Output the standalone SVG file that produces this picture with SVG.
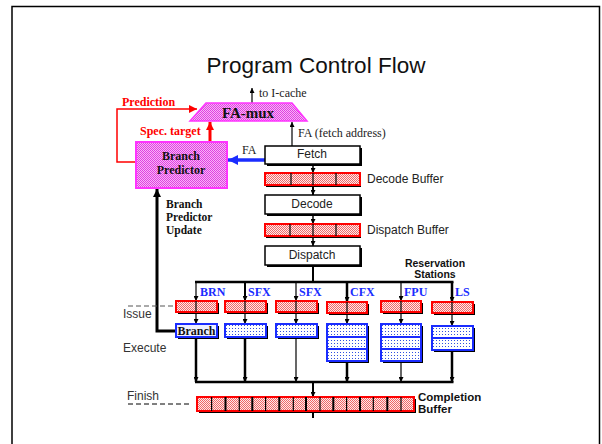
<svg xmlns="http://www.w3.org/2000/svg" width="602" height="444" viewBox="0 0 602 444">
  <defs>
    <pattern id="redCheck" width="2" height="2" patternUnits="userSpaceOnUse">
      <rect width="2" height="2" fill="#fdeaea"/>
      <rect width="1" height="1" fill="#f06868"/>
      <rect x="1" y="1" width="1" height="1" fill="#f06868"/>
    </pattern>
    <pattern id="magCheck" width="2" height="2" patternUnits="userSpaceOnUse">
      <rect width="2" height="2" fill="#f8b4f8"/>
      <rect width="1" height="1" fill="#e040e0"/>
      <rect x="1" y="1" width="1" height="1" fill="#e040e0"/>
    </pattern>
    <pattern id="blueDot" width="3" height="3" patternUnits="userSpaceOnUse">
      <rect width="3" height="3" fill="#ffffff"/>
      <rect x="1" y="1" width="1" height="1" fill="#3050e0"/>
    </pattern>
    <marker id="ah" viewBox="0 0 8 8" refX="8" refY="4" markerWidth="5" markerHeight="5" markerUnits="userSpaceOnUse" orient="auto">
      <path d="M0,0 L8,4 L0,8 z" fill="#000"/>
    </marker>
    <marker id="ahBig" viewBox="0 0 10 10" refX="10" refY="5" markerWidth="8" markerHeight="8" markerUnits="userSpaceOnUse" orient="auto">
      <path d="M0,0 L10,5 L0,10 z" fill="#000"/>
    </marker>
    <marker id="ahRed" viewBox="0 0 10 10" refX="10" refY="5" markerWidth="8" markerHeight="8" markerUnits="userSpaceOnUse" orient="auto">
      <path d="M0,0 L10,5 L0,10 z" fill="#ff0000"/>
    </marker>
    <marker id="ahBlue" viewBox="0 0 10 10" refX="10" refY="5" markerWidth="10" markerHeight="10" markerUnits="userSpaceOnUse" orient="auto">
      <path d="M0,0 L10,5 L0,10 z" fill="#1a2cff"/>
    </marker>
  </defs>
  <style>
    .sans { font-family: "Liberation Sans", Arial, sans-serif; }
    .serif { font-family: "Liberation Serif", "Times New Roman", serif; }
    .bold { font-weight: bold; }
    .stage { fill: #fff; stroke: #000; stroke-width: 1.5; }
    .shadow { fill: #000; }
    .rbuf { fill: url(#redCheck); stroke: #ff0000; stroke-width: 2; }
    .exec { fill: url(#blueDot); stroke: #1a2cff; stroke-width: 2; }
    .div { stroke: #000; stroke-width: 1.2; }
    .wire { fill: none; stroke: #000; }
    .lbl { font-size: 12px; }
    .unit { font-size: 12px; font-weight: bold; fill: #1a2cff; }
    .side { font-size: 12px; fill: #333; }
  </style>

  <rect width="602" height="444" fill="#fff"/>
  <!-- slide frame -->
  <path d="M12,444 L12,6.5 L599.5,6.5 L599.5,444" fill="none" stroke="#000" stroke-width="1.5"/>

  <text class="sans" x="316" y="73" font-size="22.5" text-anchor="middle" fill="#111">Program Control Flow</text>

  <!-- connectors -->
  <g id="connectors">
    <!-- to I-cache -->
    <line class="wire" x1="252" y1="103" x2="252" y2="88" stroke-width="1.2" marker-end="url(#ah)"/>
    <!-- fetch address into mux -->
    <line class="wire" x1="292" y1="146" x2="292" y2="122" stroke-width="1.2" marker-end="url(#ah)"/>
    <!-- prediction feedback -->
    <path d="M136,162 L117,162 L117,109 L197,109" fill="none" stroke="#ff0000" stroke-width="1.5" marker-end="url(#ahRed)"/>
    <!-- speculative target -->
    <line x1="210" y1="142" x2="210" y2="122" stroke="#ff0000" stroke-width="3" marker-end="url(#ahRed)"/>
    <!-- FA to branch predictor -->
    <line x1="265" y1="160" x2="228" y2="160" stroke="#1a2cff" stroke-width="3.5" marker-end="url(#ahBlue)"/>
    <!-- branch predictor update -->
    <path d="M176,331 L157,331 L157,189" fill="none" stroke="#000" stroke-width="3" marker-end="url(#ahBig)"/>

    <!-- front-end pipe -->
    <line class="wire" x1="313" y1="165" x2="313" y2="173" stroke-width="1.5" marker-end="url(#ah)"/>
    <line class="wire" x1="313" y1="186" x2="313" y2="195" stroke-width="2" marker-end="url(#ah)"/>
    <line class="wire" x1="313" y1="215" x2="313" y2="224" stroke-width="1.5" marker-end="url(#ah)"/>
    <line class="wire" x1="313" y1="238" x2="313" y2="246" stroke-width="1.5" marker-end="url(#ah)"/>
    <line class="wire" x1="313" y1="266" x2="313" y2="282" stroke-width="2"/>

    <!-- issue bus -->
    <line class="wire" x1="195" y1="282" x2="453.5" y2="282" stroke-width="2.5"/>
    <line class="wire" x1="196" y1="282" x2="196" y2="301" stroke-width="1.2" marker-end="url(#ah)"/>
    <line class="wire" x1="196" y1="301" x2="196" y2="324" stroke-width="1.2" marker-end="url(#ah)"/>
    <line class="wire" x1="245" y1="282" x2="245" y2="301" stroke-width="2" marker-end="url(#ah)"/>
    <line class="wire" x1="245" y1="301" x2="245" y2="324" stroke-width="1.2" marker-end="url(#ah)"/>
    <line class="wire" x1="296" y1="282" x2="296" y2="301" stroke-width="1.2" marker-end="url(#ah)"/>
    <line class="wire" x1="296" y1="301" x2="296" y2="324" stroke-width="1.2" marker-end="url(#ah)"/>
    <line class="wire" x1="347" y1="282" x2="347" y2="302" stroke-width="2.5" marker-end="url(#ah)"/>
    <line class="wire" x1="347" y1="302" x2="347" y2="324" stroke-width="1.2" marker-end="url(#ah)"/>
    <line class="wire" x1="401" y1="282" x2="401" y2="301" stroke-width="1.2" marker-end="url(#ah)"/>
    <line class="wire" x1="401" y1="301" x2="401" y2="324" stroke-width="1.2" marker-end="url(#ah)"/>
    <line class="wire" x1="452" y1="282" x2="452" y2="302" stroke-width="2.5" marker-end="url(#ah)"/>
    <line class="wire" x1="452" y1="302" x2="452" y2="326" stroke-width="1.2" marker-end="url(#ah)"/>

    <!-- finish bus -->
    <line class="wire" x1="196" y1="338" x2="196" y2="382" stroke-width="2.5" marker-end="url(#ah)"/>
    <line class="wire" x1="245" y1="338" x2="245" y2="382" stroke-width="2.5" marker-end="url(#ah)"/>
    <line class="wire" x1="296" y1="338" x2="296" y2="382" stroke-width="1.2" marker-end="url(#ah)"/>
    <line class="wire" x1="347" y1="362" x2="347" y2="382" stroke-width="2.5" marker-end="url(#ah)"/>
    <line class="wire" x1="401" y1="362" x2="401" y2="382" stroke-width="1.2" marker-end="url(#ah)"/>
    <line class="wire" x1="452" y1="351" x2="452" y2="382" stroke-width="2.5" marker-end="url(#ah)"/>
    <line class="wire" x1="195" y1="382" x2="453.5" y2="382" stroke-width="2.5"/>
    <line class="wire" x1="313" y1="382" x2="313" y2="397" stroke-width="2" marker-end="url(#ah)"/>
    <line class="wire" x1="313" y1="411" x2="313" y2="418" stroke-width="2"/>

    <!-- stage markers -->
    <line x1="128" y1="306" x2="174" y2="306" stroke="#555" stroke-width="1" stroke-dasharray="5,3"/>
    <line x1="128" y1="404" x2="192" y2="404" stroke="#000" stroke-width="1" stroke-dasharray="5,3"/>
  </g>

  <g id="fa-mux">
    <path d="M206,103 L292,103 L307,121 L190,121 z" fill="url(#magCheck)" stroke="#ff33ff" stroke-width="1.5"/>
    <text class="serif bold" x="248" y="118" font-size="15" text-anchor="middle" fill="#111">FA-mux</text>
  </g>
  <text class="serif lbl" x="259" y="97" fill="#222">to I-cache</text>
  <text class="serif lbl" x="298" y="137" fill="#222">FA (fetch address)</text>
  <text class="serif bold lbl" x="122" y="106" fill="#ff0000">Prediction</text>
  <text class="serif bold lbl" x="140" y="135" fill="#ff0000">Spec. target</text>
  <text class="serif lbl" x="242" y="154" fill="#222">FA</text>

  <g id="branch-predictor">
    <rect x="136" y="142" width="91" height="46" fill="url(#magCheck)" stroke="#ff33ff" stroke-width="2"/>
    <text class="serif bold lbl" x="181" y="160" text-anchor="middle" fill="#111">Branch</text>
    <text class="serif bold lbl" x="181" y="174" text-anchor="middle" fill="#111">Predictor</text>
  </g>
  <text class="serif bold" font-size="11.5" fill="#111"><tspan x="166" y="208">Branch</tspan><tspan x="166" y="221">Predictor</tspan><tspan x="166" y="234">Update</tspan></text>

  <g id="fetch">
    <rect class="shadow" x="267" y="148" width="95" height="18"/>
    <rect class="stage" x="265" y="146" width="95" height="18"/>
    <text class="sans lbl" x="312" y="158" text-anchor="middle" fill="#222">Fetch</text>
  </g>

  <g id="decode-buffer">
    <rect class="shadow" x="266" y="175" width="95" height="12"/>
    <rect class="rbuf" x="265" y="173" width="95" height="12"/>
    <line class="div" x1="291" y1="173" x2="291" y2="185"/>
    <line class="div" x1="313" y1="173" x2="313" y2="185"/>
    <line class="div" x1="336" y1="173" x2="336" y2="185" stroke-width="2"/>
    <text class="sans lbl" x="367" y="183" fill="#222">Decode Buffer</text>
  </g>

  <g id="decode">
    <rect class="shadow" x="267" y="197" width="95" height="19"/>
    <rect class="stage" x="265" y="195" width="95" height="19"/>
    <text class="sans lbl" x="312" y="208" text-anchor="middle" fill="#222">Decode</text>
  </g>

  <g id="dispatch-buffer">
    <rect class="shadow" x="266" y="226" width="95" height="12"/>
    <rect class="rbuf" x="265" y="224" width="95" height="12"/>
    <line class="div" x1="290" y1="224" x2="290" y2="236"/>
    <line class="div" x1="313" y1="224" x2="313" y2="236"/>
    <line class="div" x1="336" y1="224" x2="336" y2="236" stroke-width="2"/>
    <text class="sans lbl" x="367" y="234" fill="#222">Dispatch Buffer</text>
  </g>

  <g id="dispatch">
    <rect class="shadow" x="267" y="248" width="95" height="19"/>
    <rect class="stage" x="265" y="246" width="95" height="19"/>
    <text class="sans lbl" x="312" y="259" text-anchor="middle" fill="#222">Dispatch</text>
  </g>

  <text class="sans bold" font-size="10.5" text-anchor="middle" fill="#111"><tspan x="435" y="267">Reservation</tspan><tspan x="435" y="278">Stations</tspan></text>

  <!-- unit labels -->
  <text class="serif unit" x="200" y="296">BRN</text>
  <text class="serif unit" x="248" y="296">SFX</text>
  <text class="serif unit" x="299" y="296">SFX</text>
  <text class="serif unit" x="350" y="296">CFX</text>
  <text class="serif unit" x="404" y="296">FPU</text>
  <text class="serif unit" x="455" y="296">LS</text>

  <!-- reservation stations -->
  <g id="rs-brn">
    <rect class="shadow" x="178" y="303" width="41" height="11"/>
    <rect class="rbuf" x="176" y="301" width="41" height="11"/>
  </g>
  <g id="rs-sfx1">
    <rect class="shadow" x="227" y="303" width="41" height="11"/>
    <rect class="rbuf" x="225" y="301" width="41" height="11"/>
  </g>
  <g id="rs-sfx2">
    <rect class="shadow" x="278" y="303" width="41" height="11"/>
    <rect class="rbuf" x="276" y="301" width="41" height="11"/>
  </g>
  <g id="rs-cfx">
    <rect class="shadow" x="329" y="304" width="40" height="11"/>
    <rect class="rbuf" x="327" y="302" width="40" height="11"/>
  </g>
  <g id="rs-fpu">
    <rect class="shadow" x="383" y="303" width="40" height="11"/>
    <rect class="rbuf" x="381" y="301" width="40" height="11"/>
  </g>
  <g id="rs-ls">
    <rect class="shadow" x="434" y="304" width="41" height="11"/>
    <rect class="rbuf" x="432" y="302" width="41" height="11"/>
  </g>
  <!-- bus lines drawn over the stations -->
  <g class="wire">
    <line x1="196" y1="301" x2="196" y2="312" stroke-width="1.2"/>
    <line x1="245" y1="301" x2="245" y2="312" stroke-width="1.2"/>
    <line x1="296" y1="301" x2="296" y2="312" stroke-width="1.2"/>
    <line x1="347" y1="302" x2="347" y2="313" stroke-width="1.2"/>
    <line x1="401" y1="301" x2="401" y2="312" stroke-width="1.2"/>
    <line x1="452" y1="302" x2="452" y2="313" stroke-width="1.2"/>
  </g>

  <!-- execution units -->
  <g id="ex-branch">
    <rect class="shadow" x="178" y="326" width="41" height="13"/>
    <rect x="176" y="324" width="41" height="13" fill="#eef0ff" stroke="#1a2cff" stroke-width="2"/>
    <text class="serif bold lbl" x="196.5" y="335" text-anchor="middle" fill="#111">Branch</text>
  </g>
  <g id="ex-sfx1">
    <rect class="shadow" x="227" y="326" width="41" height="13"/>
    <rect class="exec" x="225" y="324" width="41" height="13"/>
  </g>
  <g id="ex-sfx2">
    <rect class="shadow" x="278" y="326" width="41" height="13"/>
    <rect class="exec" x="276" y="324" width="41" height="13"/>
  </g>
  <g id="ex-cfx">
    <rect class="shadow" x="329" y="326" width="40" height="37"/>
    <rect class="exec" x="327" y="324" width="40" height="37"/>
    <line x1="327" y1="337" x2="367" y2="337" stroke="#1a2cff" stroke-width="2"/>
    <line x1="327" y1="349" x2="367" y2="349" stroke="#1a2cff" stroke-width="2"/>
  </g>
  <g id="ex-fpu">
    <rect class="shadow" x="383" y="326" width="40" height="37"/>
    <rect class="exec" x="381" y="324" width="40" height="37"/>
    <line x1="381" y1="337" x2="421" y2="337" stroke="#1a2cff" stroke-width="2"/>
    <line x1="381" y1="349" x2="421" y2="349" stroke="#1a2cff" stroke-width="2"/>
  </g>
  <g id="ex-ls">
    <rect class="shadow" x="434" y="328" width="41" height="24"/>
    <rect class="exec" x="432" y="326" width="41" height="24"/>
    <line x1="432" y1="338" x2="473" y2="338" stroke="#1a2cff" stroke-width="2"/>
  </g>

  <g id="completion-buffer">
    <rect class="shadow" x="199" y="399" width="217" height="14"/>
    <rect class="rbuf" x="197" y="397" width="217" height="14"/>
    <g class="div">
      <line x1="211.6" y1="397" x2="211.6" y2="411"/>
      <line x1="225.5" y1="397" x2="225.5" y2="411" stroke-width="2"/>
      <line x1="239.3" y1="397" x2="239.3" y2="411"/>
      <line x1="252.3" y1="397" x2="252.3" y2="411" stroke-width="2"/>
      <line x1="265.6" y1="397" x2="265.6" y2="411"/>
      <line x1="279.3" y1="397" x2="279.3" y2="411" stroke-width="2"/>
      <line x1="293.3" y1="397" x2="293.3" y2="411"/>
      <line x1="306" y1="397" x2="306" y2="411" stroke-width="2"/>
      <line x1="320" y1="397" x2="320" y2="411"/>
      <line x1="333.3" y1="397" x2="333.3" y2="411" stroke-width="2"/>
      <line x1="346.6" y1="397" x2="346.6" y2="411"/>
      <line x1="360" y1="397" x2="360" y2="411" stroke-width="2"/>
      <line x1="373.3" y1="397" x2="373.3" y2="411"/>
      <line x1="387.3" y1="397" x2="387.3" y2="411" stroke-width="2"/>
      <line x1="401" y1="397" x2="401" y2="411"/>
    </g>
  </g>
  <text class="sans bold" font-size="11.5" fill="#111"><tspan x="418" y="401">Completion</tspan><tspan x="418" y="413">Buffer</tspan></text>

  <!-- stage names -->
  <text class="sans side" x="123" y="318">Issue</text>
  <text class="sans side" x="123" y="352">Execute</text>
  <text class="sans side" x="127" y="400">Finish</text>
</svg>
